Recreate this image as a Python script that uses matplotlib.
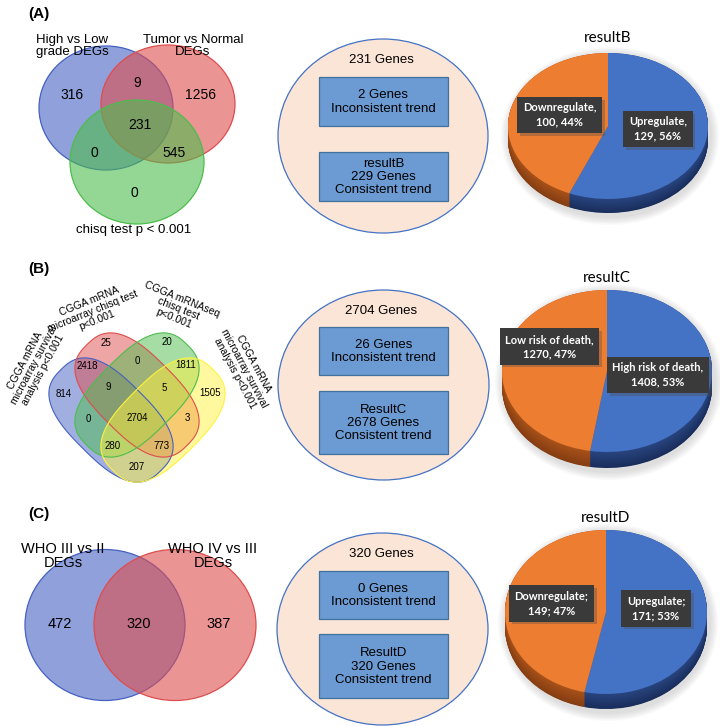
import numpy as np
import matplotlib
matplotlib.use("Agg")
import matplotlib.pyplot as plt
import matplotlib.patheffects as pe
from matplotlib.patches import Ellipse, Rectangle, Polygon

# ---------------- data ----------------
venn_a_sets = ["High vs Low\ngrade DEGs", "Tumor vs Normal\nDEGs", "chisq test p < 0.001"]
# regions: A only, A&B, B only, A&B&C, A&C, B&C, C only
venn_a_counts = [316, 9, 1256, 231, 0, 545, 0]

venn_b_sets = ["CGGA mRNA\nmicroarray survival\nanalysis p<0.001",
               "CGGA mRNA\nmicroarray chisq test\np<0.001",
               "CGGA mRNAseq\nchisq test\np<0.001",
               "CGGA mRNA\nmicroarray survival\nanalysis p<0.001"]
venn_b_counts = [25, 20, 2418, 0, 1811, 814, 9, 5, 1505, 0, 2704, 3, 280, 773, 207]

venn_c_sets = ["WHO III vs II\nDEGs", "WHO IV vs III\nDEGs"]
venn_c_counts = [472, 320, 387]

summary_totals = [231, 2704, 320]
inconsistent_counts = [2, 26, 0]
consistent_names = ["resultB", "ResultC", "ResultD"]
consistent_counts = [229, 2678, 320]

pie_titles = ["resultB", "resultC", "resultD"]
pie_b_labels = ["Upregulate", "Downregulate"]
pie_b_values = [129, 100]
pie_c_labels = ["High risk of death", "Low risk of death"]
pie_c_values = [1408, 1270]
pie_d_labels = ["Upregulate", "Downregulate"]
pie_d_values = [171, 149]
pie_separators = [", ", ", ", "; "]

panel_letters = ["(A)", "(B)", "(C)"]

# ---------------- figure ----------------
W, H = 720, 726
fig = plt.figure(figsize=(W / 100, H / 100), dpi=100)
fig.patch.set_facecolor("white")
SANS = ["Liberation Sans", "DejaVu Sans"]
CAL = ["Lato", "DejaVu Sans"]

bg = fig.add_axes([0, 0, 1, 1])
bg.set_xlim(0, W); bg.set_ylim(H, 0); bg.axis("off")

BLUE = (0.27, 0.38, 0.76)
RED = (0.87, 0.30, 0.30)
GREEN = (0.30, 0.74, 0.30)
YELLOW = (1.0, 0.95, 0.25)

# ---------------- pies ----------------
pie_geom = [(608, 126, 100, 73, 14), (607, 371, 105, 81, 16), (606, 612, 101, 82, 15)]
pie_title_y = [38, 278, 518]
pie_values = [pie_b_values, pie_c_values, pie_d_values]
pie_labels = [pie_b_labels, pie_c_labels, pie_d_labels]
top_cols = ["#4472C4", "#ED7D31"]
side_cols_dark = np.array([[0.10, 0.18, 0.36], [0.52, 0.24, 0.07]])
side_cols_light = np.array([[0.16, 0.27, 0.50], [0.66, 0.32, 0.10]])
label_pos = [[(658, 129), (559.5, 115)],
             [(658, 375), (549.5, 346.5)],
             [(656, 608.5), (551.5, 603.5)]]

for (cx, cy, rx, ry, dp) in pie_geom:
    for s in np.linspace(1.0, 0.0, 6):
        bg.add_patch(Ellipse((cx + 2, cy + dp / 2 + 3), 2 * rx + 14 * s + 4, 2 * ry + dp + 14 * s + 4,
                             fc="0.55", ec="none", alpha=0.05))

for (cx, cy, rx, ry, dp), vals in zip(pie_geom, pie_values):
    x0, x1 = cx - rx, cx + rx
    y0, y1 = cy - ry, cy + ry + dp
    ax = fig.add_axes([x0 / W, 1 - y1 / H, (x1 - x0) / W, (y1 - y0) / H])
    d = dp / ry
    ks = np.linspace(d, 0.0, 30)
    for t, k in enumerate(ks):
        f = t / (len(ks) - 1)
        cols = [tuple(side_cols_dark[m] * (1 - f) + side_cols_light[m] * f) for m in range(2)]
        ax.pie(vals, colors=cols, startangle=90, counterclock=False,
               center=(0, -k), radius=1, wedgeprops=dict(linewidth=0))
    ax.pie(vals, colors=top_cols, startangle=90, counterclock=False,
           radius=1, wedgeprops=dict(linewidth=0))
    ax.set_aspect("auto")
    ax.set_xlim(-1, 1); ax.set_ylim(-1 - d, 1)
    ax.axis("off")

ov = fig.add_axes([0, 0, 1, 1])
ov.set_xlim(0, W); ov.set_ylim(H, 0); ov.axis("off")
ov.patch.set_alpha(0)

for i in range(3):
    cx = pie_geom[i][0]
    ov.text(cx, pie_title_y[i], pie_titles[i], ha="center", va="center",
            fontsize=11, family=CAL)
    vals = pie_values[i]
    tot = sum(vals)
    sep = pie_separators[i]
    for j in range(2):
        pct = int(round(100 * vals[j] / tot))
        txt = f"{pie_labels[i][j]}{sep.strip()}\n{vals[j]}{sep}{pct}%"
        px, py = label_pos[i][j]
        t = ov.text(px, py, txt, ha="center", va="center", fontsize=8,
                    family=CAL, weight="bold", color="white", linespacing=1.35,
                    bbox=dict(boxstyle="square,pad=0.5", fc="#3A3A3A", ec="none"))
        t.get_bbox_patch().set_path_effects([
            pe.SimplePatchShadow(offset=(2, -2), shadow_rgbFace="0.3", alpha=0.35), pe.Normal()])

# ---------------- middle summary circles ----------------
mid_geom = [(383, 136, 210, 194), (383.5, 385, 211, 190), (382.5, 629, 211, 192)]
mid_title_y = [60, 311, 554]
box1 = [(77, 126), (327, 375), (571, 619)]
box2 = [(152, 201), (391, 454), (634, 698)]
bx0, bx1 = 319, 448
for i in range(3):
    cx, cy, w, h = mid_geom[i]
    ov.add_patch(Ellipse((cx, cy), w, h, fc="#FBE5D6", ec="#4472C4", lw=0.9))
    ov.text(381, mid_title_y[i], f"{summary_totals[i]} Genes", ha="center", va="center",
            fontsize=9.5, family=SANS)
    for (ya, yb), txt in [(box1[i], f"{inconsistent_counts[i]} Genes\nInconsistent trend"),
                          (box2[i], f"{consistent_names[i]}\n{consistent_counts[i]} Genes\nConsistent trend")]:
        ov.add_patch(Rectangle((bx0, ya), bx1 - bx0, yb - ya, fc="#6C9BD3", ec="#41719C", lw=0.9))
        ov.text((bx0 + bx1) / 2, (ya + yb) / 2 + 0.5, txt, ha="center", va="center",
                fontsize=9.5, family=SANS, linespacing=1.15)

# ---------------- panel letters ----------------
for lab, y in zip(panel_letters, [14, 269, 514]):
    ov.text(39, y, lab, ha="center", va="center", fontsize=11, weight="bold", family=SANS)

# ---------------- Venn A ----------------
va_shapes = [((106, 108), 134, 124, BLUE), ((168, 104), 134, 118, RED), ((137, 162), 134, 124, GREEN)]
for (c, w, h, col) in va_shapes:
    ov.add_patch(Ellipse(c, w, h, fc=col, alpha=0.6, ec="none"))
    ov.add_patch(Ellipse(c, w, h, fc="none", ec=col, lw=0.9))
va_pos = [(72, 95), (137, 83), (200, 95), (140, 125), (94, 153), (174, 153), (134, 193)]
for (x, y), n in zip(va_pos, venn_a_counts):
    ov.text(x, y, str(n), ha="center", va="center", fontsize=10, family=SANS)
for (x, y), t in zip([(72, 46), (193, 46), (134, 230)], venn_a_sets):
    ov.text(x, y, t, ha="center", va="center", fontsize=9.5, family=SANS, linespacing=1.05)

# ---------------- Venn B (rounded, capsule-like shapes) ----------------
def superellipse(c, a, b, ang, n=2.7, m=200):
    tt = np.linspace(0, 2 * np.pi, m, endpoint=False)
    ct, st = np.cos(tt), np.sin(tt)
    x = a * np.sign(ct) * np.abs(ct) ** (2 / n)
    y = b * np.sign(st) * np.abs(st) ** (2 / n)
    r = np.deg2rad(ang)
    xr = x * np.cos(r) - y * np.sin(r) + c[0]
    yr = x * np.sin(r) + y * np.cos(r) + c[1]
    return np.column_stack([xr, yr])

vb_shapes = [((111, 420), 45, BLUE), ((137, 395), 45, RED), ((137, 395), -45, GREEN), ((163, 420), -45, YELLOW)]
for (c, ang, col) in vb_shapes:
    ov.add_patch(Polygon(superellipse(c, 71, 40, ang), closed=True, fc=col, alpha=0.5, ec="none"))
for (c, ang, col) in vb_shapes:
    ov.add_patch(Polygon(superellipse(c, 71, 40, ang), closed=True, fc="none", ec=col, lw=0.8))
vb_pos = [(106, 343), (167, 342), (87, 366), (137, 361), (186, 365), (64, 394), (108, 387),
          (164, 388), (210, 393), (88, 419), (137, 418), (187, 418), (113, 446), (162, 446), (137, 467)]
for (x, y), n in zip(vb_pos, venn_b_counts):
    ov.text(x, y, str(n), ha="center", va="center", fontsize=7, family=SANS)
vb_lab = [((34, 365), 62), ((93, 311), 22), ((178, 309), -22), ((244, 368), -62)]
for ((x, y), rot), t in zip(vb_lab, venn_b_sets):
    ov.text(x, y, t, ha="center", va="center", fontsize=7.5, family=SANS, rotation=rot,
            rotation_mode="anchor", linespacing=1.05)

# ---------------- Venn C ----------------
vc_shapes = [((105, 625), 160, 151, BLUE), ((175, 625), 162, 151, RED)]
for (c, w, h, col) in vc_shapes:
    ov.add_patch(Ellipse(c, w, h, fc=col, alpha=0.6, ec="none"))
    ov.add_patch(Ellipse(c, w, h, fc="none", ec=col, lw=0.9))
for (x, y), n in zip([(60, 624), (139, 624), (219, 624)], venn_c_counts):
    ov.text(x, y, str(n), ha="center", va="center", fontsize=10.5, family=SANS)
for (x, y), t in zip([(63, 556), (213, 556)], venn_c_sets):
    ov.text(x, y, t, ha="center", va="center", fontsize=10.5, family=SANS, linespacing=1.05)

fig.savefig("out.png", dpi=100)
